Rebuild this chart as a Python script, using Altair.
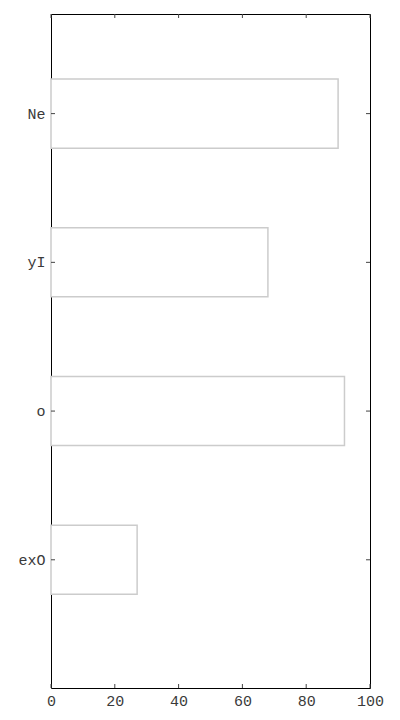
import altair as alt
import pandas as pd

categories = ["Ne", "yI", "o", "exO"]
values = [90, 68, 92, 27]
x_ticks = [0, 20, 40, 60, 80, 100]

W, H = 319, 674
FONT = "Liberation Mono"

bars_df = pd.DataFrame({"cat": categories, "val": values})
xt_df = pd.DataFrame({"val": x_ticks})

yscale = alt.Scale(domain=categories, paddingInner=0.536, paddingOuter=0.534, align=0.41)
xscale = alt.Scale(domain=[0, 100], nice=False)

bars = alt.Chart(bars_df).mark_bar(fill="white", stroke="#cccccc", strokeWidth=1.5).encode(
    y=alt.Y("cat:N", scale=yscale, sort=categories, title=None,
            axis=alt.Axis(ticks=False, domain=False, labelPadding=6, labelFont=FONT,
                          labelFontSize=15, labelColor="#3a3a3a")),
    x=alt.X("val:Q", scale=xscale, title=None,
            axis=alt.Axis(values=x_ticks, ticks=False, domain=False, grid=False, labelPadding=5,
                          labelFont=FONT, labelFontSize=15, labelColor="#3a3a3a", labelFlush=False)),
)

tick_color = "#444444"
xt_top = alt.Chart(xt_df).mark_rule(color=tick_color, strokeWidth=1).encode(
    x=alt.X("val:Q", scale=xscale), y=alt.value(0), y2=alt.value(4))
xt_bot = alt.Chart(xt_df).mark_rule(color=tick_color, strokeWidth=1).encode(
    x=alt.X("val:Q", scale=xscale), y=alt.value(H), y2=alt.value(H - 4))
yt_left = alt.Chart(bars_df).mark_rule(color=tick_color, strokeWidth=1).encode(
    y=alt.Y("cat:N", scale=yscale, sort=categories), x=alt.value(0), x2=alt.value(4))
yt_right = alt.Chart(bars_df).mark_rule(color=tick_color, strokeWidth=1).encode(
    y=alt.Y("cat:N", scale=yscale, sort=categories), x=alt.value(W), x2=alt.value(W - 4))

chart = alt.layer(bars, xt_top, xt_bot, yt_left, yt_right).properties(
    width=W, height=H,
    autosize=alt.AutoSizeParams(type="none"),
    padding={"left": 51, "top": 14, "right": 30, "bottom": 32},
    background="white",
).configure_view(stroke="black", strokeWidth=1).configure_axis(grid=False)

chart.save("out.html", embed_options={"renderer": "svg", "actions": False})
